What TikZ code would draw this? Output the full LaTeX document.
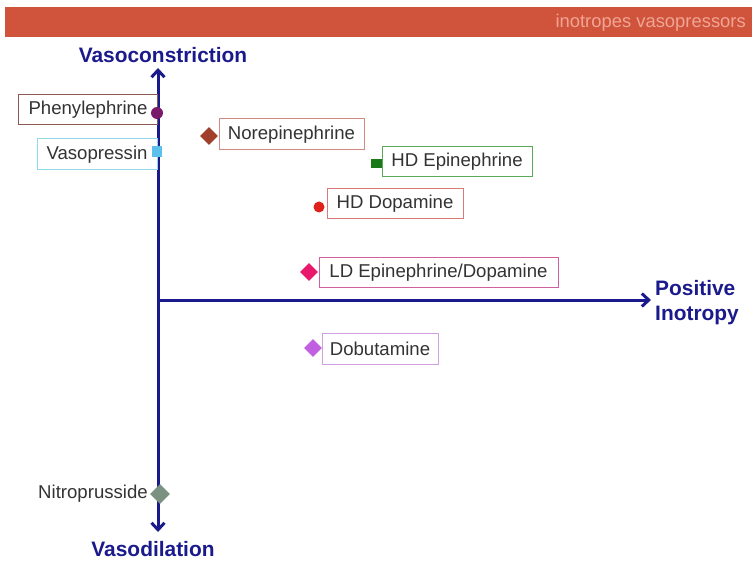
\documentclass[tikz,border=0pt]{standalone}
\usepackage{fontspec}
\setmainfont{Liberation Sans}
\usetikzlibrary{shapes.geometric,arrows.meta}
\definecolor{hdr}{HTML}{D0543B}
\definecolor{hdrtxt}{HTML}{F0A595}
\definecolor{navy}{HTML}{1A1A8C}
\definecolor{txt}{HTML}{333333}
\definecolor{bphe}{HTML}{8A5A50}
\definecolor{bvas}{HTML}{8FD8E8}
\definecolor{bnor}{HTML}{D08A80}
\definecolor{bhde}{HTML}{5AA85A}
\definecolor{bhdd}{HTML}{D87A7A}
\definecolor{bld}{HTML}{D060A0}
\definecolor{bdob}{HTML}{D0A0E0}
\definecolor{mphe}{HTML}{7A1A6A}
\definecolor{mvas}{HTML}{5BC0EB}
\definecolor{mnor}{HTML}{A0402A}
\definecolor{mhde}{HTML}{1A7A1A}
\definecolor{mhdd}{HTML}{E0201A}
\definecolor{mld}{HTML}{E8186A}
\definecolor{mdob}{HTML}{C060E0}
\definecolor{mnit}{HTML}{7A9080}
\tikzset{
  lbl/.style={draw, line width=1pt, rectangle, inner sep=0pt, text=txt, font=\fontsize{18.6}{22}\selectfont},
  axtitle/.style={text=navy, font=\fontsize{20.9}{25}\selectfont\bfseries, inner sep=0pt},
  axis/.style={navy, line width=3pt},
  tip/.style={-{Straight Barb[length=7pt,width=13pt]}},
  mk/.style={inner sep=0pt, draw=none},
  dia/.style={mk, diamond, minimum width=18pt, minimum height=18pt}
}
\begin{document}
\begin{tikzpicture}[x=1pt,y=-1pt]
\useasboundingbox (0,0) rectangle (752,561);
% header
\fill[hdr] (5,7) rectangle (752,37);
\node[anchor=east, text=hdrtxt, font=\fontsize{18.4}{22}\selectfont, inner sep=0pt] (hdrtext) at (746,23) {inotropes vasopressors};
% axes
\coordinate (top) at (158,68);
\coordinate (bot) at (158,532);
\coordinate (orig) at (158,300);
\coordinate (right) at (651,300);
\draw[axis, {Straight Barb[length=7pt,width=13pt]}-{Straight Barb[length=7pt,width=13pt]}] (top) -- (bot);
\draw[axis, tip] (orig) -- (right);
\node[axtitle] (vc) at (163,55) {Vasoconstriction};
\node[axtitle] (vd) at (153,549) {Vasodilation};
\node[axtitle, anchor=west, align=left, font=\fontsize{20.9}{25}\selectfont\bfseries] (pi) at (655,303) {Positive\\Inotropy};
% labels
\node[lbl, draw=bphe, minimum width=139pt, minimum height=30pt] (phe) at (88,110) {Phenylephrine};
\node[lbl, draw=bvas, minimum width=120pt, minimum height=31pt] (vas) at (97,154.5) {Vasopressin};
\node[lbl, draw=bnor, minimum width=145pt, minimum height=31pt] (nor) at (291.5,134.5) {Norepinephrine};
\node[lbl, draw=bhde, minimum width=150pt, minimum height=30pt] (hde) at (457,162) {HD Epinephrine};
\node[lbl, draw=bhdd, minimum width=136pt, minimum height=30pt] (hdd) at (395,204) {HD Dopamine};
\node[lbl, draw=bld, minimum width=239pt, minimum height=30pt] (ld) at (438.5,273) {LD Epinephrine/Dopamine};
\node[lbl, draw=bdob, minimum width=116pt, minimum height=31pt] (dob) at (380,348.5) {Dobutamine};
\node[anchor=east, inner sep=0pt, text=txt, font=\fontsize{18.6}{22}\selectfont] (nit) at (148,494) {Nitroprusside};
% markers
\node[mk, circle, fill=mphe, minimum size=12pt] (mphe) at (157,113) {};
\node[mk, rectangle, fill=mvas, minimum width=10pt, minimum height=11pt] (mvas) at (157,152) {};
\node[dia, fill=mnor] (mnor) at (209,136) {};
\node[mk, rectangle, fill=mhde, minimum width=11pt, minimum height=9pt] (mhde) at (376,164) {};
\node[mk, circle, fill=mhdd, minimum size=11pt] (mhdd) at (319,207) {};
\node[dia, fill=mld] (mld) at (309,272) {};
\node[dia, fill=mdob] (mdob) at (313,348) {};
\node[dia, fill=mnit, minimum width=20pt, minimum height=20pt] (mnit) at (160,494) {};
\end{tikzpicture}
\end{document}
